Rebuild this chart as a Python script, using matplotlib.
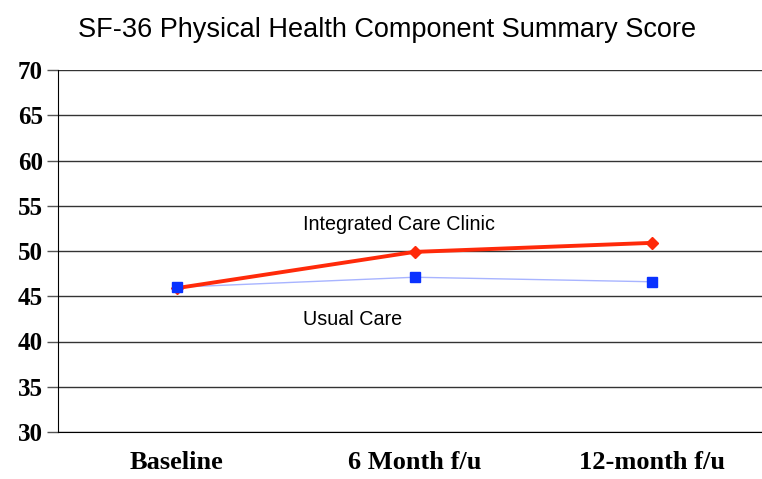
import matplotlib.pyplot as plt
import numpy as np

# Data
timepoints = ['Baseline', '6 Month f/u', '12-month f/u']
integrated_care = [45.9, 49.9, 50.9]
usual_care = [46.0, 47.1, 46.6]
y_ticks = [30, 35, 40, 45, 50, 55, 60, 65, 70]

fig = plt.figure(figsize=(7.62, 4.79), dpi=100)
ax = fig.add_axes([58 / 762, 1 - 432 / 479, 713 / 762, 362 / 479])

x = np.arange(len(timepoints))

# Usual care: thin pale blue line with blue squares (squares drawn on top)
ax.plot(x, usual_care, color='#A8B4FF', linewidth=1.0, zorder=3)
ax.plot(x, usual_care, linestyle='none', marker='s', markersize=6.5,
        color='#0A32FF', zorder=6)

# Integrated care clinic: thick red line with diamonds
ax.plot(x, integrated_care, color='#FF2A0A', linewidth=2.8,
        marker='D', markersize=6, zorder=5)

ax.text(0.53, 52.9, 'Integrated Care Clinic', fontsize=14.2,
        family='Liberation Sans', ha='left', va='center')
ax.text(0.53, 42.4, 'Usual Care', fontsize=14.2,
        family='Liberation Sans', ha='left', va='center')

ax.set_xlim(-0.5, 2.5)
ax.set_ylim(30, 70)
ax.set_yticks(y_ticks)
ax.set_yticklabels([str(v) for v in y_ticks], family='Liberation Serif',
                   fontweight='bold', fontsize=18)
ax.set_xticks(x)
ax.set_xticklabels(timepoints, family='Liberation Serif',
                   fontweight='bold', fontsize=19)
ax.tick_params(axis='x', length=0, pad=14)
ax.tick_params(axis='y', length=8, width=1, color='#555555', pad=3)

ax.grid(True, axis='y', color='#333333', linewidth=1.0)
ax.set_axisbelow(True)
for side in ['top', 'right']:
    ax.spines[side].set_visible(False)
ax.spines['left'].set_color('black')
ax.spines['bottom'].set_color('black')

fig.text(387 / 762, 1 - 30 / 479, 'SF-36 Physical Health Component Summary Score',
         fontsize=19.5, family='Liberation Sans', ha='center', va='center')

fig.savefig('out.png', dpi=100)
